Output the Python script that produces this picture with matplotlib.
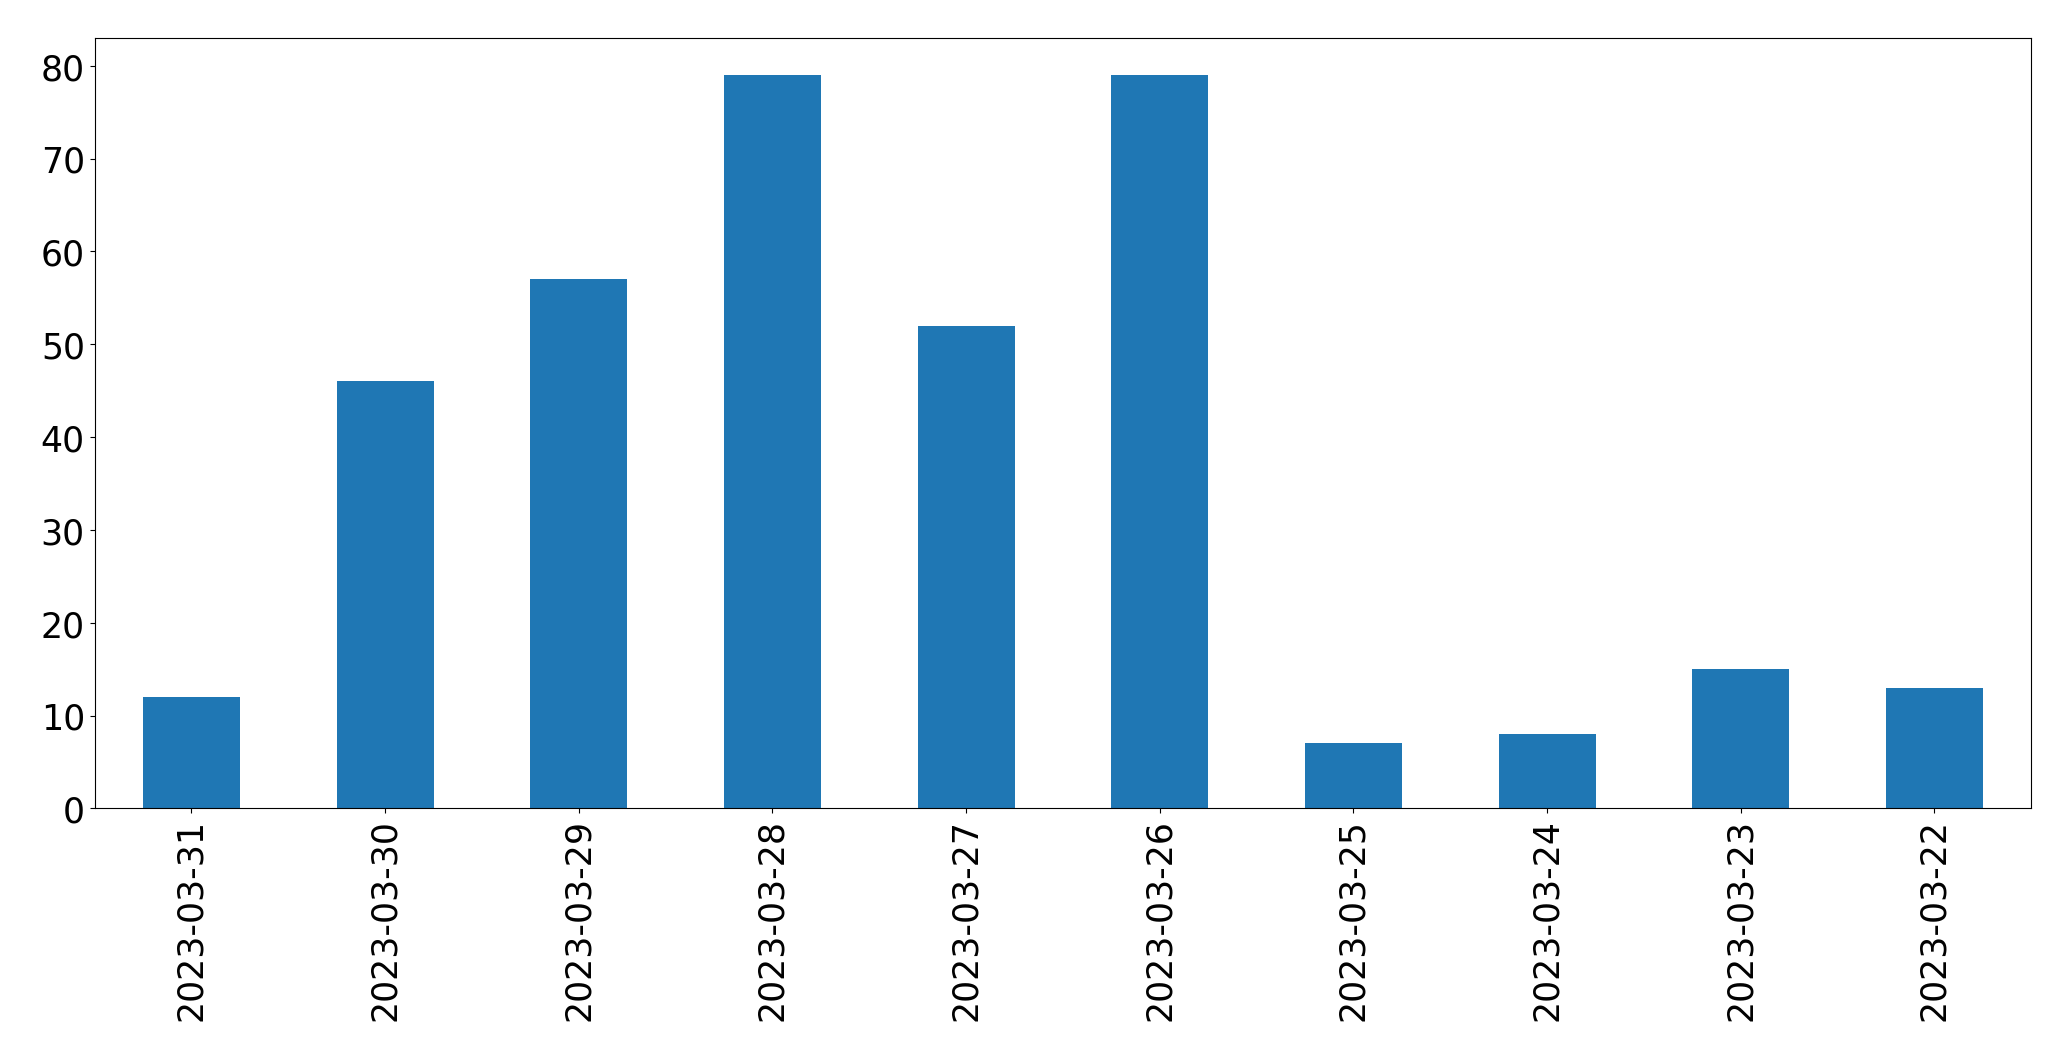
import matplotlib
matplotlib.use("Agg")
import matplotlib.pyplot as plt

dates = ["2023-03-31", "2023-03-30", "2023-03-29", "2023-03-28", "2023-03-27",
         "2023-03-26", "2023-03-25", "2023-03-24", "2023-03-23", "2023-03-22"]
counts = [12, 46, 57, 79, 52, 79, 7, 8, 15, 13]

fig = plt.figure(figsize=(20.71, 10.6095), dpi=100)
ax = fig.add_axes([0.0457, 0.2372, 0.9351, 0.7258])
x = list(range(len(dates)))
ax.bar(x, counts, width=0.5, color="#1f77b4")
ax.set_xlim(-0.5, len(dates) - 0.5)
ax.set_xticks(x)
ax.set_xticklabels(dates, rotation=90, fontsize=25)
ax.tick_params(axis="y", labelsize=25)
fig.savefig("out.png", dpi=100)
